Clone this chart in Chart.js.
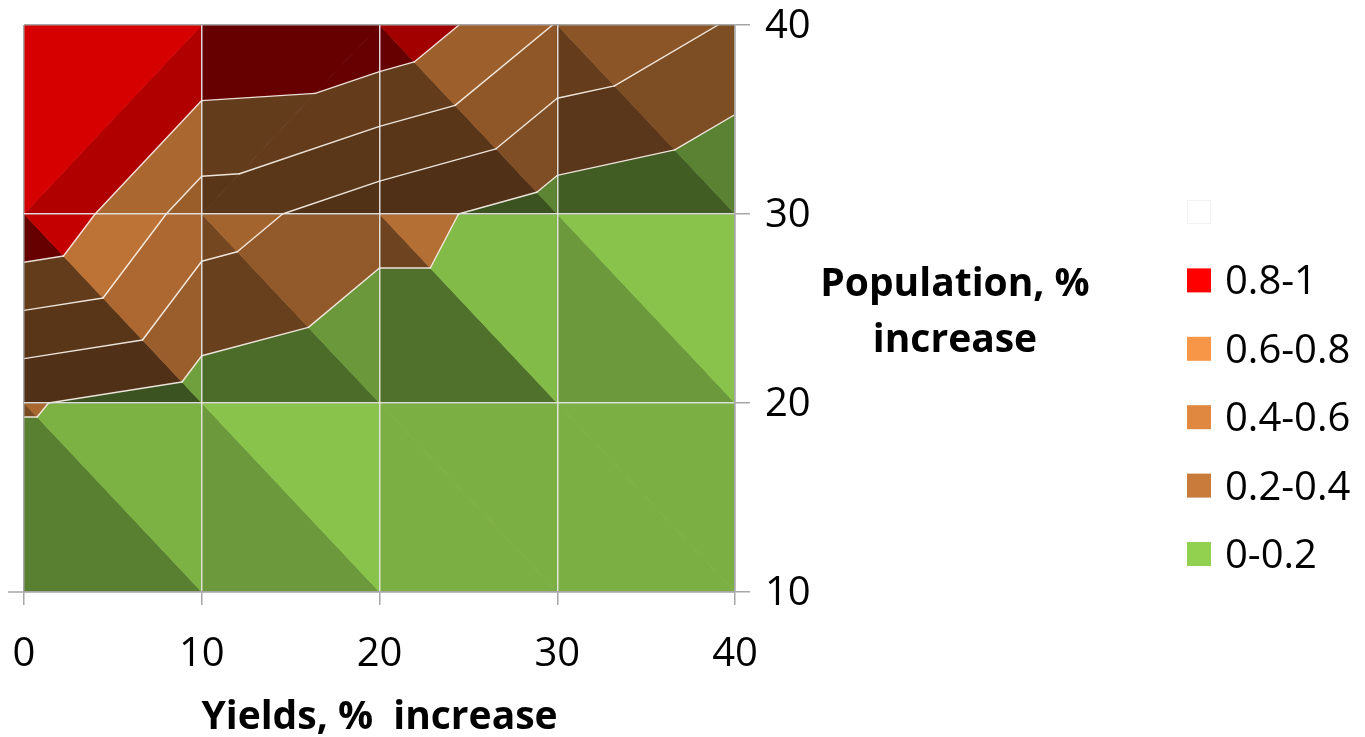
<!DOCTYPE html>
<html>
<head>
<meta charset="utf-8">
<script src="https://cdn.jsdelivr.net/npm/chart.js@4.4.1/dist/chart.umd.min.js"></script>
<style>
  html, body { margin: 0; padding: 0; background: #ffffff; }
  canvas { display: block; }
</style>
</head>
<body>
<canvas id="chart" width="1365" height="737"></canvas>
<script>
// Grid of the surface: yield increase (x) and population increase (y), in %
const yieldLevels = [0, 10, 20, 30, 40];
const populationLevels = [10, 20, 30, 40];

// Probability at each grid node, one row per population level (bottom to top)
const probAtPop10 = [0.00, 0.00, 0.00, 0.00, 0.00];
const probAtPop20 = [0.216, 0.10, 0.00, 0.00, 0.00];
const probAtPop30 = [1.00, 0.50, 0.28, 0.10, 0.00];
const probAtPop40 = [1.00, 1.00, 0.97, 0.59, 0.38];
const probRows = [probAtPop10, probAtPop20, probAtPop30, probAtPop40];

// Value bands of the contour map
const bandLimits = [0, 0.2, 0.4, 0.6, 0.8, 1.0, 1.2];
const bandLabels = ['0-0.2', '0.2-0.4', '0.4-0.6', '0.6-0.8', '0.8-1', ''];
const bandColors = ['#92D050', '#C87B3A', '#E0883F', '#F79646', '#FF0000', '#FFFFFF'];

// Axis tick labels
const xTickValues = [0, 10, 20, 30, 40];
const yTickValues = [10, 20, 30, 40];

const xTitle = 'Yields, %  increase';
const yTitleLines = ['Population, %', 'increase'];

// Facet lighting (light from the upper right, seen from above)
const LIGHT = { ambient: 0.40, x: 0.55, y: 0.49, z: 0.44, relief: 20 };

const FONT = '"Open Sans", "Liberation Sans", sans-serif';
const EDGE_GREY = '#A6A6A6';

function gridNode(i, j) {
  return { x: yieldLevels[i], y: populationLevels[j], z: probRows[j][i] };
}

// Each grid cell is split into two triangles along its higher diagonal
function buildFacets() {
  const facets = [];
  for (let j = 0; j < populationLevels.length - 1; j++) {
    for (let i = 0; i < yieldLevels.length - 1; i++) {
      const bl = gridNode(i, j), br = gridNode(i + 1, j);
      const tl = gridNode(i, j + 1), tr = gridNode(i + 1, j + 1);
      if (bl.z + tr.z > tl.z + br.z) {
        facets.push([bl, br, tr], [bl, tr, tl]);
      } else {
        facets.push([tl, bl, br], [tl, br, tr]);
      }
    }
  }
  return facets;
}

function facetShade(tri) {
  const [a, b, c] = tri;
  const det = (b.x - a.x) * (c.y - a.y) - (c.x - a.x) * (b.y - a.y);
  const zx = ((b.z - a.z) * (c.y - a.y) - (c.z - a.z) * (b.y - a.y)) / det;
  const zy = ((b.x - a.x) * (c.z - a.z) - (c.x - a.x) * (b.z - a.z)) / det;
  const nx = -LIGHT.relief * zx, ny = -LIGHT.relief * zy, nz = 1;
  const len = Math.hypot(nx, ny, nz);
  const d = (nx * LIGHT.x + ny * LIGHT.y + nz * LIGHT.z) / len;
  return Math.min(1, LIGHT.ambient + Math.max(0, d));
}

function shadeColor(hex, f) {
  const n = parseInt(hex.slice(1), 16);
  const r = (n >> 16) & 255, g = (n >> 8) & 255, b = n & 255;
  return 'rgb(' + Math.round(r * f) + ',' + Math.round(g * f) + ',' + Math.round(b * f) + ')';
}

// Keep the part of a polygon on one side of a value level
function clipLevel(poly, level, keepAbove) {
  const out = [];
  for (let k = 0; k < poly.length; k++) {
    const p = poly[k], q = poly[(k + 1) % poly.length];
    const pIn = keepAbove ? p.z >= level : p.z <= level;
    const qIn = keepAbove ? q.z >= level : q.z <= level;
    if (pIn) out.push(p);
    if (pIn !== qIn) {
      const t = (level - p.z) / (q.z - p.z);
      out.push({ x: p.x + t * (q.x - p.x), y: p.y + t * (q.y - p.y), z: level });
    }
  }
  return out;
}

const surfacePlugin = {
  id: 'contourSurface',
  beforeDraw(chart) {
    const { ctx, chartArea: area, scales } = chart;
    const xs = scales.x, ys = scales.y;
    const toPx = p => [xs.getPixelForValue(p.x), ys.getPixelForValue(p.y)];
    const facets = buildFacets();

    ctx.save();
    ctx.beginPath();
    ctx.rect(area.left, area.top, area.right - area.left, area.bottom - area.top);
    ctx.clip();
    ctx.lineJoin = 'round';

    // filled bands, shaded per facet
    facets.forEach(tri => {
      const f = facetShade(tri);
      for (let b = 0; b < bandColors.length; b++) {
        const lo = bandLimits[b], hi = bandLimits[b + 1];
        let poly = clipLevel(tri, lo, true);
        poly = clipLevel(poly, hi, false);
        if (poly.length < 3) continue;
        if (b > 0 && !poly.some(p => p.z > lo + 1e-9)) continue;
        const col = shadeColor(bandColors[b], f);
        ctx.beginPath();
        poly.forEach((p, k) => {
          const [X, Y] = toPx(p);
          if (k === 0) ctx.moveTo(X, Y); else ctx.lineTo(X, Y);
        });
        ctx.closePath();
        ctx.fillStyle = col;
        ctx.strokeStyle = col;
        ctx.lineWidth = 0.8;
        ctx.fill();
        ctx.stroke();
      }
    });

    // contour lines between bands
    const levels = bandLimits.slice(1, -1);
    ctx.strokeStyle = 'rgba(248,243,236,0.92)';
    ctx.lineWidth = 1.4;
    ctx.lineCap = 'round';
    facets.forEach(tri => {
      levels.forEach(lv => {
        const pts = [];
        for (let e = 0; e < 3; e++) {
          const p = tri[e], q = tri[(e + 1) % 3];
          if ((p.z - lv) * (q.z - lv) < 0) {
            const t = (lv - p.z) / (q.z - p.z);
            pts.push({ x: p.x + t * (q.x - p.x), y: p.y + t * (q.y - p.y) });
          }
        }
        if (pts.length === 2) {
          const [x1, y1] = toPx(pts[0]);
          const [x2, y2] = toPx(pts[1]);
          ctx.beginPath();
          ctx.moveTo(x1, y1);
          ctx.lineTo(x2, y2);
          ctx.stroke();
        }
      });
    });
    ctx.restore();
  },
  afterDraw(chart) {
    const { ctx, chartArea: area, scales } = chart;
    ctx.save();

    // short tick at the lower left corner
    const yb = scales.y.getPixelForValue(populationLevels[0]);
    ctx.strokeStyle = EDGE_GREY;
    ctx.lineWidth = 1.5;
    ctx.beginPath();
    ctx.moveTo(area.left - 16, yb);
    ctx.lineTo(area.left, yb);
    ctx.stroke();

    // vertical axis title, written horizontally
    ctx.fillStyle = '#000000';
    ctx.font = '700 39px ' + FONT;
    ctx.textAlign = 'center';
    ctx.textBaseline = 'alphabetic';
    const titleX = area.right + 220;
    yTitleLines.forEach((line, k) => {
      ctx.fillText(line, titleX, area.top + 271 + k * 56);
    });

    // legend, highest band first
    const swatchX = area.right + 452;
    const rowGap = 68.4;
    ctx.font = '40px ' + FONT;
    ctx.textAlign = 'left';
    for (let r = 0; r < bandColors.length; r++) {
      const b = bandColors.length - 1 - r;
      const cy = area.top + 187 + r * rowGap;
      ctx.fillStyle = bandColors[b];
      ctx.fillRect(swatchX, cy - 12, 24, 24);
      if (bandColors[b] === '#FFFFFF') {
        ctx.strokeStyle = '#F2F2F2';
        ctx.lineWidth = 1;
        ctx.strokeRect(swatchX + 0.5, cy - 11.5, 23, 23);
      }
      ctx.fillStyle = '#000000';
      ctx.fillText(bandLabels[b], swatchX + 38, cy + 14);
    }
    ctx.restore();
  }
};

const gridColor = edgeValues => c =>
  (c.tick && edgeValues.includes(c.tick.value)) ? EDGE_GREY : 'rgba(232,232,232,0.92)';

// fixed axis boxes, without the extra room Chart.js keeps for overhanging labels
const fixBox = size => s => {
  if (s.isHorizontal()) s.height = size; else s.width = size;
  s.paddingLeft = 0; s.paddingRight = 0; s.paddingTop = 0; s.paddingBottom = 0;
};

new Chart(document.getElementById('chart'), {
  type: 'scatter',
  data: { datasets: [] },
  options: {
    responsive: false,
    animation: false,
    events: [],
    layout: { padding: { left: 24, top: 25, right: 0, bottom: 0 } },
    plugins: { legend: { display: false }, tooltip: { enabled: false } },
    scales: {
      x: {
        type: 'linear',
        position: 'bottom',
        min: yieldLevels[0],
        max: yieldLevels[yieldLevels.length - 1],
        afterBuildTicks: s => { s.ticks = xTickValues.map(v => ({ value: v })); },
        afterFit: fixBox(145),
        ticks: {
          color: '#000000',
          font: { family: FONT, size: 40 },
          padding: 26,
          maxRotation: 0,
          callback: v => String(v)
        },
        grid: {
          color: gridColor([xTickValues[0], xTickValues[xTickValues.length - 1]]),
          lineWidth: 1.5,
          tickLength: 13,
          tickColor: EDGE_GREY,
          tickWidth: 1.5
        },
        border: { display: true, color: EDGE_GREY, width: 1.5 },
        title: {
          display: true,
          text: xTitle,
          color: '#000000',
          font: { family: FONT, size: 39, weight: 'bold', lineHeight: 1 },
          padding: { top: 0, bottom: 0 }
        }
      },
      y: {
        type: 'linear',
        position: 'right',
        min: populationLevels[0],
        max: populationLevels[populationLevels.length - 1],
        afterBuildTicks: s => { s.ticks = yTickValues.map(v => ({ value: v })); },
        afterFit: fixBox(630),
        ticks: {
          color: '#000000',
          font: { family: FONT, size: 40 },
          padding: 15,
          labelOffset: 2,
          callback: v => String(v)
        },
        grid: {
          color: gridColor([yTickValues[0], yTickValues[yTickValues.length - 1]]),
          lineWidth: 1.5,
          tickLength: 15,
          tickColor: EDGE_GREY,
          tickWidth: 1.5
        },
        border: { display: true, color: EDGE_GREY, width: 1.5 }
      }
    }
  },
  plugins: [surfacePlugin]
});
</script>
</body>
</html>
